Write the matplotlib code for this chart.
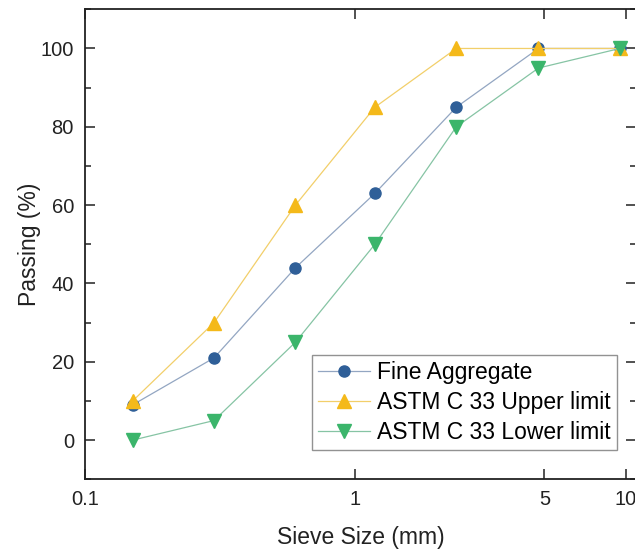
import matplotlib
matplotlib.use("Agg")
import matplotlib.pyplot as plt
from matplotlib.ticker import FixedLocator, FixedFormatter, MultipleLocator

plt.rcParams["font.family"] = ["Liberation Sans", "DejaVu Sans"]

# sieve openings (mm) and percent passing
sieve = [0.15, 0.3, 0.6, 1.18, 2.36, 4.75, 9.5]
fine = [9, 21, 44, 63, 85, 100, 100]
upper = [10, 30, 60, 85, 100, 100, 100]
lower = [0, 5, 25, 50, 80, 95, 100]

xtick_vals = [0.1, 1, 5, 10]
xtick_labels = ["0.1", "1", "5", "10"]

fig = plt.figure(figsize=(6.35, 5.51), dpi=100)
ax = fig.add_axes([85 / 635, 1 - 479.3 / 551, 551 / 635, 470 / 551])

ax.plot(sieve, fine, color="#93a6c2", lw=0.9, marker="o", ms=8,
        mfc="#2f5f98", mec="#2f5f98", label="Fine Aggregate", zorder=3)
ax.plot(sieve, upper, color="#f2cf6a", lw=0.9, marker="^", ms=9.5,
        mfc="#f4b91a", mec="#f4b91a", label="ASTM C 33 Upper limit", zorder=4)
ax.plot(sieve, lower, color="#86c4a4", lw=0.9, marker="v", ms=9.5,
        mfc="#3bb56b", mec="#3bb56b", label="ASTM C 33 Lower limit", zorder=5)

ax.set_xscale("log")
ax.set_xlim(0.1, 10.9)
ax.set_ylim(-10, 110)

ax.xaxis.set_major_locator(FixedLocator(xtick_vals))
ax.xaxis.set_major_formatter(FixedFormatter(xtick_labels))
ax.xaxis.set_minor_locator(FixedLocator([]))
ax.set_yticks([0, 20, 40, 60, 80, 100])
ax.yaxis.set_minor_locator(MultipleLocator(10))

ax.tick_params(which="both", direction="in", top=True, right=True,
               labelsize=14.5, colors="#222222", width=1.1)
ax.tick_params(which="major", length=7, pad=8)
ax.tick_params(which="minor", length=4)
for s in ax.spines.values():
    s.set_linewidth(1.3)
    s.set_color("#222222")

ax.set_xlabel("Sieve Size (mm)", fontsize=16.5, labelpad=12, color="#222222")
ax.set_ylabel("Passing (%)", fontsize=16.5, labelpad=-0.5, color="#222222")

leg = ax.legend(loc="lower left", bbox_to_anchor=(0.412, 0.062),
                fontsize=16.5, frameon=True, fancybox=False, borderaxespad=0,
                handlelength=2.3, handletextpad=0.3, labelspacing=0.32,
                borderpad=0.25, edgecolor="#777777")
leg.get_frame().set_linewidth(1.0)

fig.savefig("out.png", dpi=100)
